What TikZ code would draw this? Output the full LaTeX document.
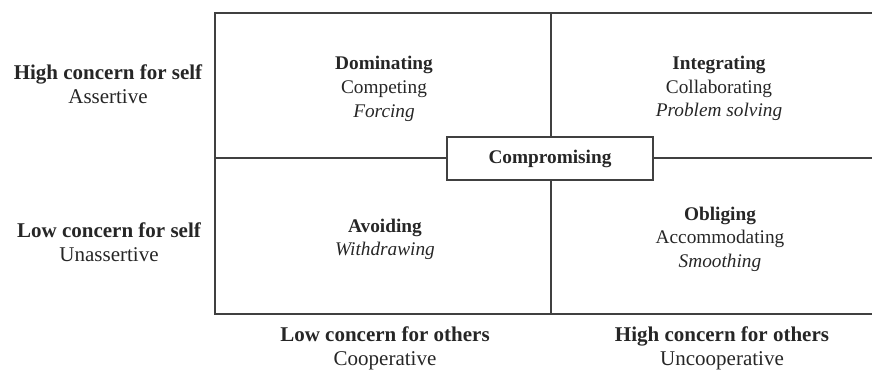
\documentclass[tikz,border=0pt]{standalone}
\usepackage{fontspec}
\setmainfont{Liberation Serif}
\begin{document}
\begin{tikzpicture}[x=1pt,y=-1pt,
  gridline/.style={line width=1.5pt, draw=black!75},
  celltxt/.style={font=\fontsize{19.3}{23}\selectfont, anchor=base, inner sep=0pt, text=black!85},
  cellbold/.style={celltxt, font=\fontsize{19.3}{23}\selectfont\bfseries},
  cellit/.style={celltxt, font=\fontsize{19.3}{23}\selectfont\itshape},
  axistxt/.style={font=\fontsize{21}{24}\selectfont, anchor=base, inner sep=0pt, text=black!85},
  axisbold/.style={axistxt, font=\fontsize{21}{24}\selectfont\bfseries},
  compbox/.style={draw=black!75, line width=1.3pt, fill=white, minimum width=206pt, minimum height=43pt, inner sep=0pt,
    font=\fontsize{19.3}{23}\selectfont\bfseries, text=black!85}]
\useasboundingbox (0,0) rectangle (872,372);
% grid
\coordinate (tl) at (215,13);
\coordinate (tr) at (872,13);
\coordinate (bl) at (215,314);
\coordinate (br) at (872,314);
\coordinate (vt) at (551,13);
\coordinate (vb) at (551,314);
\coordinate (hl) at (215,158);
\coordinate (hr) at (872,158);
\draw[gridline] (tr) -- (tl) -- (bl) -- (br);
\draw[gridline] (vt) -- (vb);
\draw[gridline] (hl) -- (hr);
\node[compbox] (comp) at (550,158.5) {Compromising};
% left axis
\node[axisbold] (hs1) at (108,79) {High concern for self};
\node[axistxt] (hs2) at (108,103) {Assertive};
\node[axisbold] (ls1) at (109,237) {Low concern for self};
\node[axistxt] (ls2) at (109,261) {Unassertive};
% bottom axis
\node[axisbold] (lo1) at (385,341) {Low concern for others};
\node[axistxt] (lo2) at (385,365) {Cooperative};
\node[axisbold] (ho1) at (722,341) {High concern for others};
\node[axistxt] (ho2) at (722,365) {Uncooperative};
% cells
\node[cellbold] (dom1) at (384,69) {Dominating};
\node[celltxt] (dom2) at (384,93) {Competing};
\node[cellit] (dom3) at (384,117) {Forcing};
\node[cellbold] (int1) at (719,69) {Integrating};
\node[celltxt] (int2) at (719,93) {Collaborating};
\node[cellit] (int3) at (719,116) {Problem solving};
\node[cellbold] (avo1) at (385,232) {Avoiding};
\node[cellit] (avo2) at (385,255) {Withdrawing};
\node[cellbold] (obl1) at (720,220) {Obliging};
\node[celltxt] (obl2) at (720,243) {Accommodating};
\node[cellit] (obl3) at (720,267) {Smoothing};
\end{tikzpicture}
\end{document}
